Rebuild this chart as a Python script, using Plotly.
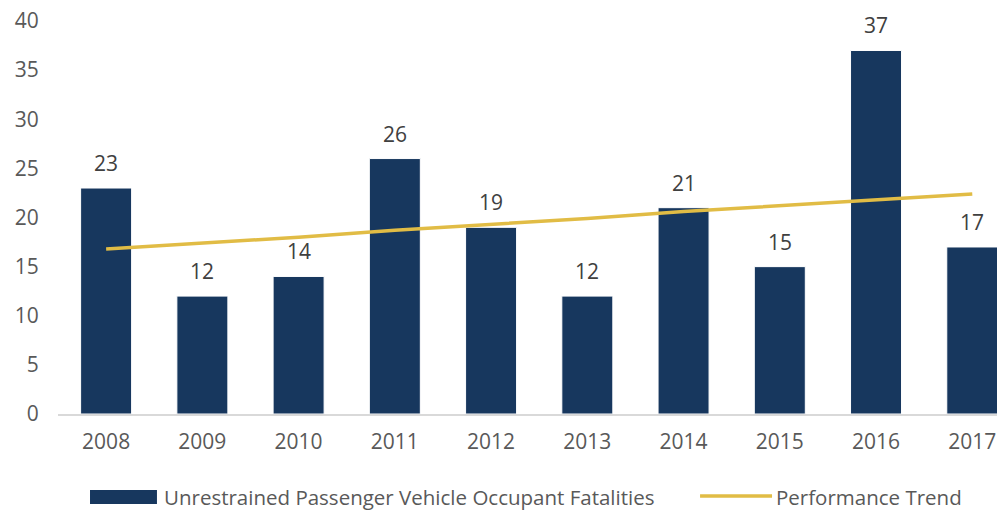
import plotly.graph_objects as go

years = ["2008", "2009", "2010", "2011", "2012", "2013", "2014", "2015", "2016", "2017"]
fatalities = [23, 12, 14, 26, 19, 12, 21, 15, 37, 17]
trend = [16.8, 17.4, 18.0, 18.7, 19.3, 19.9, 20.6, 21.2, 21.8, 22.4]

bar_name = "Unrestrained Passenger Vehicle Occupant Fatalities"
trend_name = "Performance Trend"

navy = "#17375E"
gold = "#E1BC45"
font_name = "Open Sans"

fig = go.Figure()
fig.add_trace(go.Bar(
    x=years, y=fatalities, name=bar_name,
    marker=dict(color=navy, line=dict(color="#FFFFFF", width=1)),
    width=0.53,
))
fig.add_trace(go.Scatter(
    x=years, y=trend, mode="lines", name=trend_name,
    line=dict(color=gold, width=3.5),
))

# value labels above the bars (category index on the x axis)
for i, v in enumerate(fatalities):
    fig.add_annotation(x=i, y=v, text=str(v), showarrow=False,
                       yanchor="middle", yshift=25, borderpad=0,
                       font=dict(size=21, color="#404040"))

# legend drawn by hand (wide swatch like the original)
fig.add_shape(type="rect", xref="paper", yref="paper",
              x0=0.0338, x1=0.1045, y0=-0.229, y1=-0.1934,
              fillcolor=navy, line=dict(width=0))
fig.add_annotation(xref="paper", yref="paper", x=0.111, y=-0.21,
                   xanchor="left", yanchor="middle", showarrow=False, borderpad=0,
                   text=bar_name, font=dict(size=20.5, color="#595959"))
fig.add_shape(type="line", xref="paper", yref="paper",
              x0=0.678, x1=0.754, y0=-0.2087, y1=-0.2087,
              line=dict(color=gold, width=3.5))
fig.add_annotation(xref="paper", yref="paper", x=0.757, y=-0.21,
                   xanchor="left", yanchor="middle", showarrow=False, borderpad=0,
                   text=trend_name, font=dict(size=20.5, color="#595959"))

fig.update_layout(
    width=997, height=504,
    margin=dict(l=50, r=0, t=13, b=98),
    plot_bgcolor="white", paper_bgcolor="white",
    font=dict(family=font_name, size=21, color="#595959"),
    showlegend=False,
    xaxis=dict(type="category", range=[-0.5, 9.34], showline=True,
               linecolor="#D9D9D9", linewidth=1.5, automargin=False,
               ticks="outside", ticklen=8, tickcolor="white",
               tickfont=dict(size=21), showgrid=False),
    yaxis=dict(range=[0, 40], dtick=5, showgrid=False, zeroline=False, showline=False,
               ticks="outside", ticklen=14, tickcolor="white", tickfont=dict(size=21),
               ticklabeloverflow="allow", automargin=False),
)

fig.write_html("out.html")
